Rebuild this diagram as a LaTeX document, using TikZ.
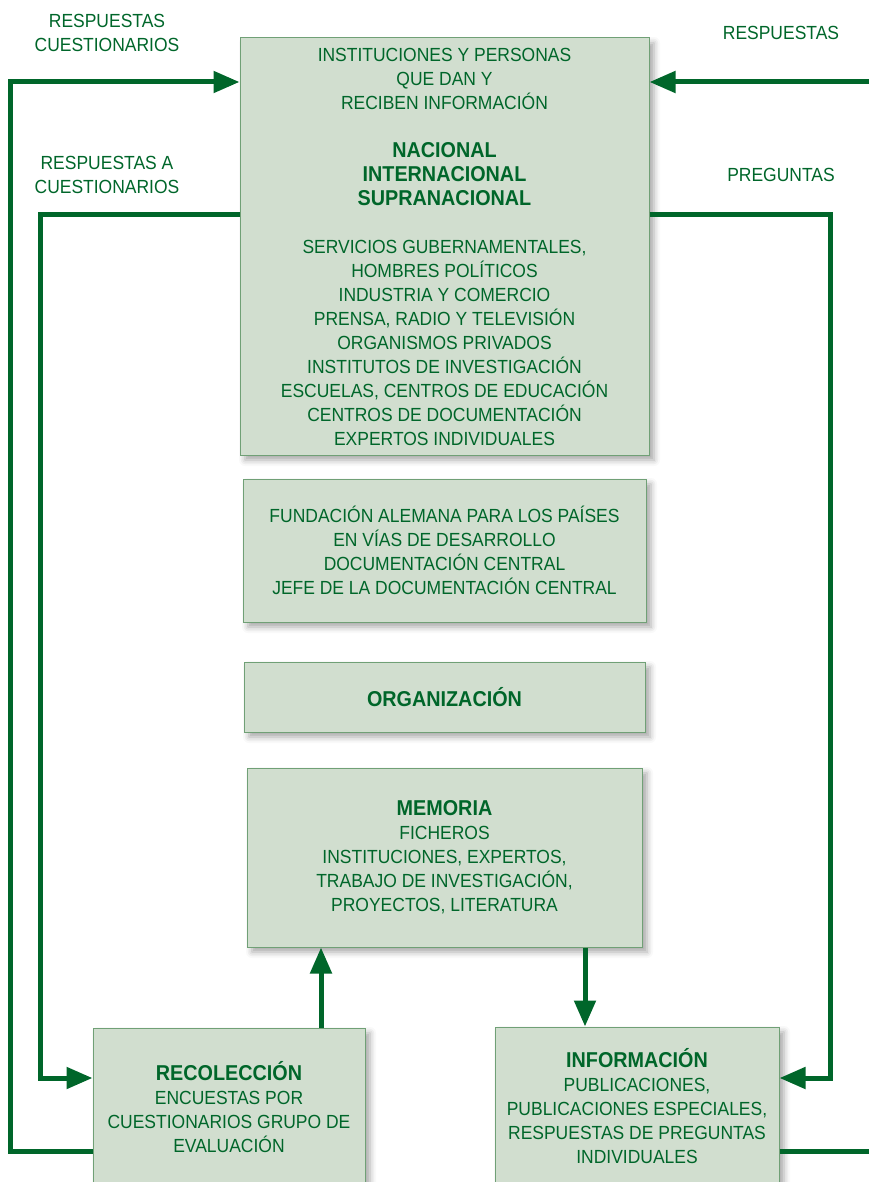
\documentclass[tikz,border=0pt]{standalone}
\usepackage{fontspec}
\setmainfont[FakeStretch=0.92]{Liberation Sans}
\usetikzlibrary{arrows.meta}
\usetikzlibrary{shadows.blur}
\definecolor{verde}{RGB}{0,102,42}
\definecolor{verdeclaro}{RGB}{209,222,207}
\definecolor{borde}{RGB}{112,160,118}
\newcommand{\titulo}[1]{{\fontsize{21.5}{24}\selectfont\bfseries #1}}

\begin{document}
\begin{tikzpicture}[x=1pt,y=-1pt,
  caja/.style={draw=borde,fill=verdeclaro,line width=1pt,align=center,text=verde,inner sep=0pt,
    font=\fontsize{19}{24}\selectfont,
    blur shadow={shadow xshift=5pt,shadow yshift=-5pt,shadow blur radius=6pt,shadow opacity=35}},
  flujo/.style={draw=verde,line width=5pt},
  punta/.style={-{Triangle[length=26pt,width=21pt]}},
  etiqueta/.style={text=verde,align=center,inner sep=0pt,font=\fontsize{19}{24}\selectfont}]
\useasboundingbox (0,0) rectangle (869,1182);

% cajas
\node[caja,minimum width=409pt,minimum height=417pt] (inst) at (444.5,246.5)
  {INSTITUCIONES Y PERSONAS\\QUE DAN Y\\RECIBEN INFORMACIÓN\\[24pt]
   \titulo{NACIONAL}\\\titulo{INTERNACIONAL}\\\titulo{SUPRANACIONAL}\\[24pt]
   SERVICIOS GUBERNAMENTALES,\\HOMBRES POLÍTICOS\\INDUSTRIA Y COMERCIO\\
   PRENSA, RADIO Y TELEVISIÓN\\ORGANISMOS PRIVADOS\\INSTITUTOS DE INVESTIGACIÓN\\
   ESCUELAS, CENTROS DE EDUCACIÓN\\CENTROS DE DOCUMENTACIÓN\\EXPERTOS INDIVIDUALES};
\node[caja,minimum width=403pt,minimum height=143pt] (fund) at (444.5,550.5)
  {FUNDACIÓN ALEMANA PARA LOS PAÍSES\\EN VÍAS DE DESARROLLO\\DOCUMENTACIÓN CENTRAL\\JEFE DE LA DOCUMENTACIÓN CENTRAL};
\node[caja,minimum width=401pt,minimum height=70pt] (org) at (444.5,697)
  {\titulo{ORGANIZACIÓN}};
\node[caja,minimum width=395pt,minimum height=179pt] (mem) at (444.5,857.5)
  {\titulo{MEMORIA}\\FICHEROS\\INSTITUCIONES, EXPERTOS,\\TRABAJO DE INVESTIGACIÓN,\\PROYECTOS, LITERATURA};
\node[caja,minimum width=272pt,minimum height=158pt] (rec) at (229,1107)
  {\titulo{RECOLECCIÓN}\\ENCUESTAS POR\\CUESTIONARIOS GRUPO DE\\EVALUACIÓN};
\node[caja,minimum width=284pt,minimum height=159pt] (info) at (637,1106.5)
  {\titulo{INFORMACIÓN}\\PUBLICACIONES,\\PUBLICACIONES ESPECIALES,\\RESPUESTAS DE PREGUNTAS\\INDIVIDUALES};

% etiquetas
\node[etiqueta] (l1) at (107,33) {RESPUESTAS\\CUESTIONARIOS};
\node[etiqueta] (l2) at (107,175) {RESPUESTAS A\\CUESTIONARIOS};
\node[etiqueta] (l3) at (781,33) {RESPUESTAS};
\node[etiqueta] (l4) at (781,175) {PREGUNTAS};

% flujos
\coordinate (bordeA) at (869,82);
\coordinate (bordeB) at (869,1151);
\draw[flujo,punta] (rec.west |- 0,1151) -| (10,82) -- (inst.west |- 0,82);
\draw[flujo,punta] (inst.west |- 0,215) -| (40,1078) -- (rec.west |- 0,1078);
\draw[flujo,punta] (bordeA) -- (inst.east |- bordeA);
\draw[flujo,punta] (inst.east |- 0,215) -| (830,1078) -- (info.east |- 0,1078);
\draw[flujo] (info.east |- bordeB) -- (bordeB);
\draw[flujo,punta] (rec.north -| 321,0) -- (mem.south -| 321,0);
\draw[flujo,punta] (mem.south -| 585,0) -- (info.north -| 585,0);
\end{tikzpicture}
\end{document}
